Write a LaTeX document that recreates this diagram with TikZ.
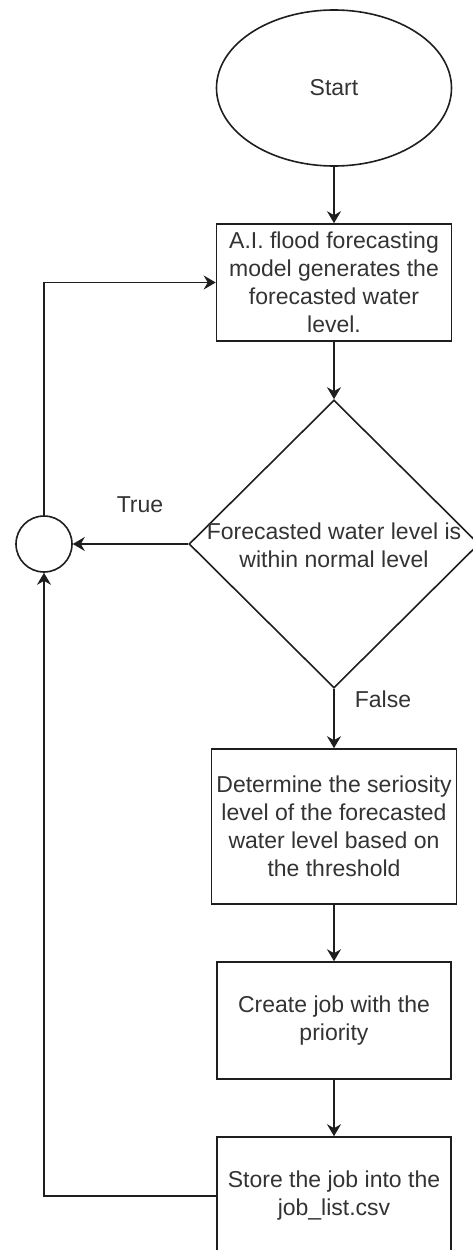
\documentclass[tikz,border=0pt]{standalone}
\usepackage{fontspec}
\setmainfont{Liberation Sans}
\usepackage{tikz}
\usetikzlibrary{arrows.meta,positioning,shapes.geometric}
\definecolor{linec}{HTML}{1E1E1E}
\definecolor{textc}{HTML}{333333}
\newcommand{\flowfont}{\fontsize{23}{28}\selectfont}
\tikzset{
  ar/.style={-{Stealth[length=12pt,width=14pt,inset=4pt]},line width=1.6pt,linec},
  box/.style={draw=linec,line width=1.6pt,align=center,inner sep=2pt,text=textc,font=\flowfont},
  lbl/.style={text=textc,font=\flowfont,align=center}
}

\begin{document}
\begin{tikzpicture}[x=1pt,y=-1pt]
\useasboundingbox (0,0) rectangle (472,1250);
% main column
\node[ellipse,draw=linec,line width=1.6pt,minimum width=235pt,minimum height=156pt,lbl] (start) at (334,88) {Start};
\node[box,minimum width=235pt,minimum height=117pt] (gen) at (334,282.5) {A.I. flood forecasting\\model generates the\\forecasted water\\level.};
\node[diamond,draw=linec,line width=1.6pt,minimum width=290pt,minimum height=288pt,inner sep=0pt] (chk) at (334,544) {};
\node[lbl] (chktxt) at (334,545) {Forecasted water level is\\within normal level};
\node[box,minimum width=245pt,minimum height=155pt] (sev) at (334,826.5) {Determine the seriosity\\level of the forecasted\\water level based on\\the threshold};
\node[box,minimum width=234pt,minimum height=117pt] (job) at (334,1020.5) {Create job with the\\priority};
\node[box,minimum width=234pt,minimum height=118pt] (store) at (334,1196) {Store the job into the\\job\_list.csv};
% loop junction
\node[circle,draw=linec,line width=1.6pt,minimum size=56pt,inner sep=0pt] (merge) at (44,544) {};
\node[lbl] (truelbl) at (140,505) {True};
\node[lbl] (falselbl) at (383,699) {False};
% connectors
\draw[ar] (start) -- (gen);
\draw[ar] (gen) -- (chk);
\draw[ar] (chk.west) -- (merge.east);
\draw[ar] (chk.south) -- (sev.north);
\draw[ar] (sev) -- (job);
\draw[ar] (job) -- (store);
\draw[ar] (store.west) -- (store.west -| merge.south) -- (merge.south);
\draw[ar] (merge.north) |- (gen.west);
\end{tikzpicture}
\end{document}
